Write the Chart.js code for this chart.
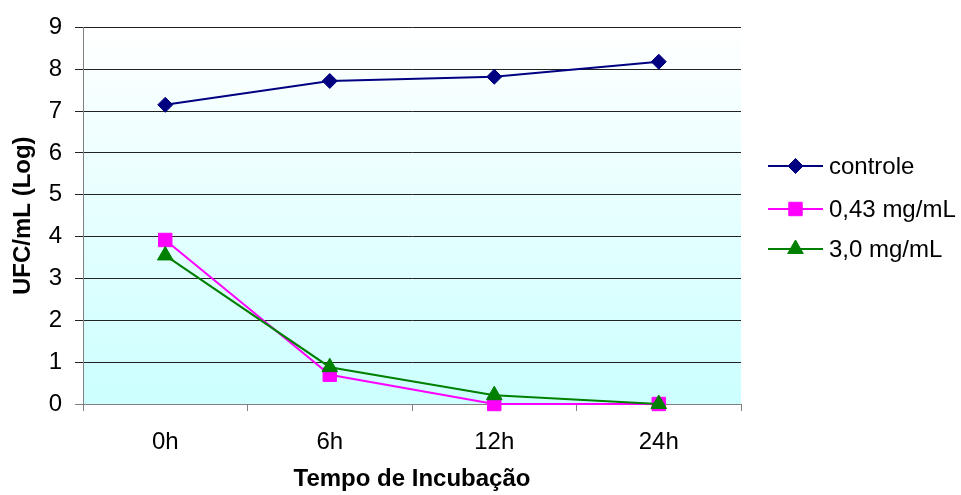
<!DOCTYPE html>
<html>
<head>
<meta charset="utf-8">
<script src="https://cdn.jsdelivr.net/npm/chart.js@4.4.1/dist/chart.umd.min.js"></script>
<style>
  html, body { margin: 0; padding: 0; background: #ffffff; }
  #wrap { width: 961px; height: 495px; }
</style>
</head>
<body>
<div id="wrap"><canvas id="c" width="961" height="495"></canvas></div>
<script>
// Contagem de UFC/mL (log) ao longo do tempo de incubação
const categories = ['0h', '6h', '12h', '24h'];
const seriesNames = ['controle', '0,43 mg/mL', '3,0 mg/mL'];
const controle = [7.15, 7.72, 7.82, 8.18];
const dose043 = [3.92, 0.70, 0, 0];
const dose30 = [3.55, 0.88, 0.21, 0];
const yTicks = [0, 1, 2, 3, 4, 5, 6, 7, 8, 9];

const FONT = "'Liberation Sans', Arial, sans-serif";

// Fundo em degradê da área de plotagem
const plotBackground = {
  id: 'plotBackground',
  beforeDraw(chart) {
    const { ctx, chartArea: a } = chart;
    const g = ctx.createLinearGradient(0, a.top, 0, a.bottom);
    g.addColorStop(0, '#ffffff');
    g.addColorStop(1, '#ccffff');
    ctx.save();
    ctx.fillStyle = g;
    ctx.fillRect(a.left, a.top, a.right - a.left, a.bottom - a.top);
    ctx.restore();
  }
};

// Legenda com linha + marcador, à direita do gráfico
const lineLegend = {
  id: 'lineLegend',
  afterDraw(chart) {
    const { ctx } = chart;
    const x0 = 768, x1 = 823, tx = 829;
    const ys = [166, 209, 249];
    ctx.save();
    chart.data.datasets.forEach((ds, i) => {
      const y = ys[i];
      ctx.strokeStyle = ds.borderColor;
      ctx.lineWidth = 2;
      ctx.beginPath();
      ctx.moveTo(x0, y);
      ctx.lineTo(x1, y);
      ctx.stroke();
      ctx.fillStyle = ds.pointBackgroundColor;
      ctx.strokeStyle = ds.pointBorderColor;
      ctx.lineWidth = 1;
      Chart.helpers.drawPoint(ctx, {
        pointStyle: ds.pointStyle,
        radius: ds.pointRadius,
        rotation: 0,
        borderWidth: 1
      }, (x0 + x1) / 2, y);
      ctx.fillStyle = '#000000';
      ctx.font = '24px ' + FONT;
      ctx.textBaseline = 'middle';
      ctx.textAlign = 'left';
      ctx.fillText(ds.label, tx, y + 1);
    });
    ctx.restore();
  }
};

new Chart(document.getElementById('c'), {
  type: 'line',
  data: {
    labels: categories,
    datasets: [
      {
        label: seriesNames[0], data: controle, order: 3, clip: false,
        borderColor: '#000080', borderWidth: 2,
        pointStyle: 'rectRot', pointRadius: 7.5,
        pointBackgroundColor: '#000080', pointBorderColor: '#000080', pointBorderWidth: 1
      },
      {
        label: seriesNames[1], data: dose043, order: 2, clip: false,
        borderColor: '#ff00ff', borderWidth: 2,
        pointStyle: 'rect', pointRadius: 9.5,
        pointBackgroundColor: '#ff00ff', pointBorderColor: '#ff00ff', pointBorderWidth: 1
      },
      {
        label: seriesNames[2], data: dose30, order: 1, clip: false,
        borderColor: '#008000', borderWidth: 2,
        pointStyle: 'triangle', pointRadius: 9,
        pointBackgroundColor: '#008000', pointBorderColor: '#008000', pointBorderWidth: 1
      }
    ]
  },
  options: {
    responsive: false,
    animation: false,
    devicePixelRatio: 1,
    layout: { padding: { left: 0, top: 24, right: 220, bottom: 0 } },
    plugins: {
      legend: { display: false },
      tooltip: { enabled: false }
    },
    elements: { line: { tension: 0 } },
    scales: {
      x: {
        type: 'category',
        offset: true,
        grid: {
          offset: true,
          drawOnChartArea: false,
          drawTicks: true,
          tickLength: 7,
          color: '#808080',
          lineWidth: 1
        },
        border: { display: true, color: '#808080', width: 1 },
        ticks: {
          color: '#000000',
          font: { family: FONT, size: 24 },
          padding: 17,
          maxRotation: 0
        },
        title: {
          display: true,
          text: 'Tempo de Incubação',
          color: '#000000',
          font: { family: FONT, size: 24, weight: 'bold' },
          padding: { top: 0, bottom: 1 }
        },
        afterFit(scale) { scale.height = 91; }
      },
      y: {
        min: 0,
        max: 9,
        afterBuildTicks(scale) { scale.ticks = yTicks.map(v => ({ value: v })); },
        grid: {
          drawTicks: true,
          tickLength: 8,
          color: (c) => (c.tick && c.tick.value === 0 ? '#808080' : '#222222'),
          lineWidth: 1
        },
        border: { display: true, color: '#808080', width: 1 },
        ticks: {
          color: '#000000',
          font: { family: FONT, size: 24 },
          padding: 13
        },
        title: {
          display: true,
          text: 'UFC/mL (Log)',
          color: '#000000',
          font: { family: FONT, size: 24, weight: 'bold' },
          padding: { top: 9, bottom: 0 }
        },
        afterFit(scale) { scale.width = 83; }
      }
    }
  },
  plugins: [plotBackground, lineLegend]
});
</script>
</body>
</html>
